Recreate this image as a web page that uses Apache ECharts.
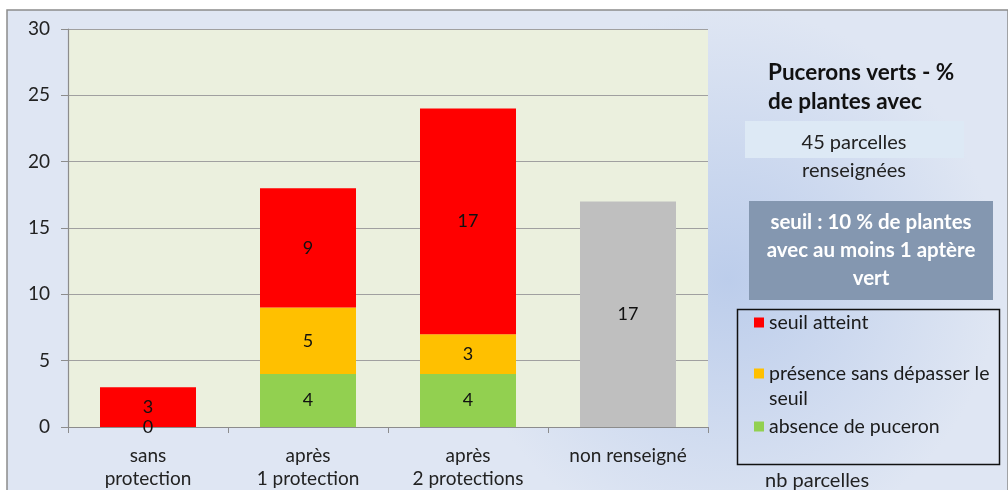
<!DOCTYPE html>
<html><head><meta charset="utf-8">
<script src="https://cdn.jsdelivr.net/npm/echarts@6/dist/echarts.min.js"></script>
<style>html,body{margin:0;padding:0;background:#fff}#c{width:1008px;height:490px}</style>
</head><body><div id="c"></div>
<script>
var categories = ['sans\nprotection', 'après\n1 protection', 'après\n2 protections', 'non renseigné'];
var absence = [0, 4, 4, null];
var presence = [0, 5, 3, null];
var seuil = [3, 9, 17, null];
var nonRens = [null, null, null, 17];
var yTicks = [0, 5, 10, 15, 20, 25, 30];

var FONT = 'Lato';
var chart = echarts.init(document.getElementById('c'));
function lbl(hideZero){
  return {show:true, position:'inside', color:'#111', fontFamily:FONT, fontSize:18,
    formatter:function(p){ if(p.value==null) return ''; if(hideZero && p.value===0) return ''; return p.value; }};
}
var legendBase = {orient:'vertical', left:754, itemWidth:10, itemHeight:10, itemGap:0, padding:0,
  icon:'rect', selectedMode:false, textStyle:{fontFamily:FONT, fontSize:19.5, color:'#1a1a1a', lineHeight:25}};
chart.setOption({
  animation:false,
  graphic:[
    {type:'rect', z:-10, shape:{x:7,y:10,width:1001,height:490},
     style:{fill:new echarts.graphic.RadialGradient(0.72,0.55,0.55,[{offset:0,color:'#bccdeb'},{offset:1,color:'#dfe6f3'}]), stroke:'#8c8c8c', lineWidth:1.5}},
    {type:'rect', z:-5, shape:{x:745,y:121,width:219,height:37}, style:{fill:'#dde9f5'}},
    {type:'rect', z:-5, shape:{x:749,y:201,width:244,height:99}, style:{fill:'#8497b0'}},
    {type:'rect', z:-5, shape:{x:737.5,y:309.5,width:262,height:155}, style:{fill:'none', stroke:'#111', lineWidth:1.5}},
    {type:'text', left:768, top:58, style:{text:'Pucerons verts - %\nde plantes avec', fontFamily:FONT, fontWeight:'bold', fontSize:22.5, lineHeight:29, fill:'#111'}},
    {type:'text', x:854, y:129, style:{text:'45 parcelles\nrenseignées', align:'center', fontFamily:FONT, fontSize:20, lineHeight:28, fill:'#222'}},
    {type:'text', x:871, y:208, style:{text:'seuil : 10 % de plantes\navec au moins 1 aptère\nvert', align:'center', fontFamily:FONT, fontWeight:'bold', fontSize:20.5, lineHeight:28, fill:'#fff'}},
    {type:'text', left:765, top:471, style:{text:'nb parcelles', fontFamily:FONT, fontSize:20, fill:'#222'}}
  ],
  legend:[
    Object.assign({}, legendBase, {top:310, data:['seuil atteint']}),
    Object.assign({}, legendBase, {top:336, data:['présence sans dépasser le seuil'],
      formatter:function(){return '\nprésence sans dépasser le\nseuil';}}),
    Object.assign({}, legendBase, {top:414, data:['absence de puceron']})
  ],
  grid:{left:68, right:300, top:29, bottom:63, show:true, backgroundColor:'#ebf0de', borderWidth:0},
  xAxis:{type:'category', data:categories,
    axisLine:{lineStyle:{color:'#8c8c8c', width:1.2}},
    axisTick:{show:true, length:6, lineStyle:{color:'#8c8c8c'}},
    axisLabel:{fontFamily:FONT, fontSize:19, color:'#222', lineHeight:23, margin:17}},
  yAxis:{type:'value', min:0, max:30, interval:5,
    axisLine:{show:true, lineStyle:{color:'#8c8c8c', width:1.2}},
    axisTick:{show:true, length:7, lineStyle:{color:'#8c8c8c'}},
    splitLine:{lineStyle:{color:'#a0a0a0', width:1.2}},
    axisLabel:{fontFamily:FONT, fontSize:19, color:'#222', margin:18,
      formatter:function(v){ return yTicks.indexOf(v)>=0 ? String(v) : ''; }}},
  series:[
    {name:'absence de puceron', type:'bar', stack:'a', barWidth:'60%', data:absence, itemStyle:{color:'#92d050'}, label:lbl(false)},
    {name:'présence sans dépasser le seuil', type:'bar', stack:'a', data:presence, itemStyle:{color:'#ffc000'}, label:lbl(true)},
    {name:'seuil atteint', type:'bar', stack:'a', data:seuil, itemStyle:{color:'#ff0000'}, label:lbl(false)},
    {name:'non renseigné', type:'bar', stack:'a', data:nonRens, itemStyle:{color:'#bfbfbf'}, label:lbl(false)}
  ]
});
</script></body></html>
